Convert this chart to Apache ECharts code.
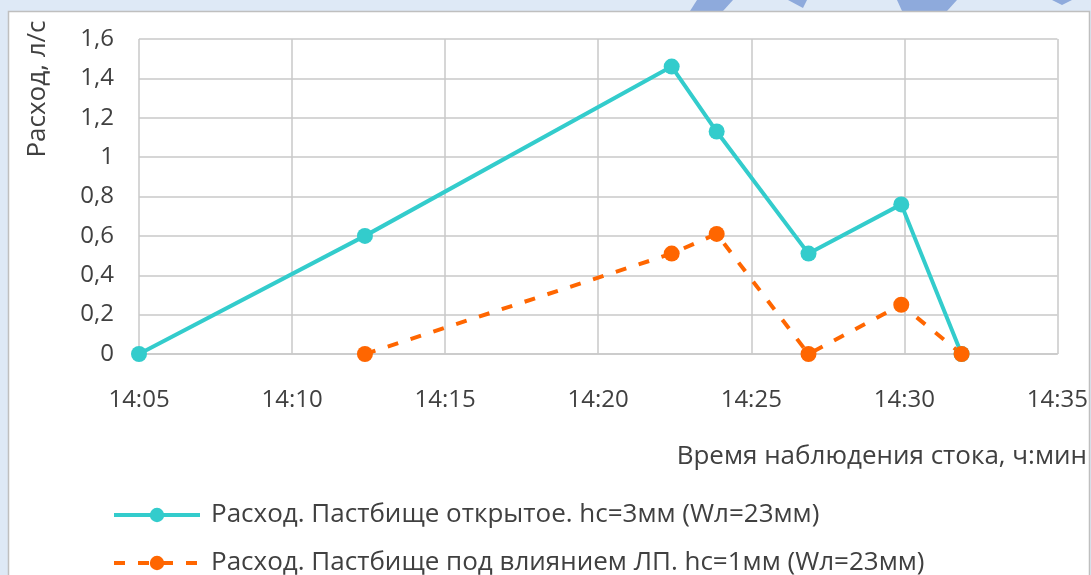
<!DOCTYPE html>
<html>
<head>
<meta charset="utf-8">
<script src="https://cdn.jsdelivr.net/npm/echarts@6/dist/echarts.min.js"></script>
<style>
  html, body { margin: 0; padding: 0; background: #dee9f6; }
  #main { width: 1091px; height: 575px; }
</style>
</head>
<body>
<div id="main"></div>
<script>
// время в минутах от 00:00 (14:05 = 845)
const timesOpen = [845, 852.38, 862.4, 863.87, 866.87, 869.9, 871.87];
const flowOpen = [0, 0.6, 1.46, 1.13, 0.51, 0.76, 0];
const timesLp = [852.38, 862.4, 863.87, 866.87, 869.9, 871.87];
const flowLp = [0, 0.51, 0.61, 0, 0.25, 0];
const seriesNames = [
  "Расход. Пастбище открытое. hc=3мм (Wл=23мм)",
  "Расход. Пастбище под влиянием ЛП. hc=1мм (Wл=23мм)",
];
const xTitle = "Время наблюдения стока, ч:мин";
const yTitle = "Расход, л/с";

const font = "Open Sans";
const textColor = "#404040";
const gridColor = "#c9c9c9";

function hhmm(v) {
  const h = Math.floor(v / 60);
  const m = Math.round(v - h * 60);
  return h + ":" + (m < 10 ? "0" + m : m);
}

const myChart = echarts.init(document.getElementById("main"));
const option = {
  backgroundColor: "#dee9f6",
  animation: false,
  textStyle: { fontFamily: font },
  graphic: [
    // фон с водяными знаками сверху
    { type: "polygon", silent: true, z: -10, shape: { points: [[697, 0], [733, 0], [723, 11], [690, 11]] }, style: { fill: "#8eaadc" } },
    { type: "polygon", silent: true, z: -10, shape: { points: [[788, 0], [807, 0], [803, 8]] }, style: { fill: "#8eaadc" } },
    { type: "polygon", silent: true, z: -10, shape: { points: [[897, 0], [957, 0], [947, 11], [902, 11]] }, style: { fill: "#8eaadc" } },
    { type: "polygon", silent: true, z: -10, shape: { points: [[1052, 0], [1072, 0], [1062, 5]] }, style: { fill: "#8eaadc" } },
    // белая панель диаграммы
    {
      type: "rect", silent: true, z: -5,
      shape: { x: 8.5, y: 11.5, width: 1081, height: 580 },
      style: { fill: "#ffffff", stroke: "#bfbfbf", lineWidth: 1.5 },
    },
    {
      type: "text", x: 38, y: 89, rotation: Math.PI / 2,
      style: { text: yTitle, font: "26px '" + font + "'", fill: textColor, align: "center", verticalAlign: "middle" },
    },
    {
      type: "text", x: 1087, y: 457,
      style: { text: xTitle, font: "26px '" + font + "'", fill: textColor, align: "right", verticalAlign: "middle" },
    },
  ],
  grid: { left: 139, top: 39, right: 33, bottom: 221 },
  xAxis: {
    type: "value",
    min: 845,
    max: 875,
    interval: 5,
    axisLine: { show: true, lineStyle: { color: gridColor, width: 1.5 } },
    axisTick: { show: false },
    axisLabel: { color: textColor, fontSize: 24, margin: 34, formatter: hhmm },
    splitLine: { show: true, lineStyle: { color: gridColor, width: 1.5 } },
  },
  yAxis: {
    type: "value",
    min: 0,
    max: 1.6,
    interval: 0.2,
    axisLine: { show: false },
    axisTick: { show: false },
    axisLabel: {
      color: textColor,
      fontSize: 24,
      margin: 25,
      formatter: (v) => String(+v.toFixed(1)).replace(".", ","),
    },
    splitLine: { show: true, lineStyle: { color: gridColor, width: 1.5 } },
  },
  legend: {
    orient: "vertical",
    left: 112,
    top: 502,
    height: 100,
    padding: 0,
    itemWidth: 86,
    itemHeight: 18,
    itemGap: 22,
    lineStyle: { width: 4 },
    textStyle: { color: textColor, fontSize: 26, padding: [0, 0, 0, 6] },
    data: seriesNames,
  },
  series: [
    {
      name: seriesNames[0],
      type: "line",
      clip: false,
      symbol: "circle",
      symbolSize: 16,
      color: "#33cccc",
      lineStyle: { width: 4, color: "#33cccc" },
      data: timesOpen.map((t, i) => [t, flowOpen[i]]),
    },
    {
      name: seriesNames[1],
      type: "line",
      clip: false,
      symbol: "circle",
      symbolSize: 16,
      color: "#ff6600",
      lineStyle: { width: 4, color: "#ff6600", type: [11, 13] },
      data: timesLp.map((t, i) => [t, flowLp[i]]),
    },
  ],
};
myChart.setOption(option);
</script>
</body>
</html>
